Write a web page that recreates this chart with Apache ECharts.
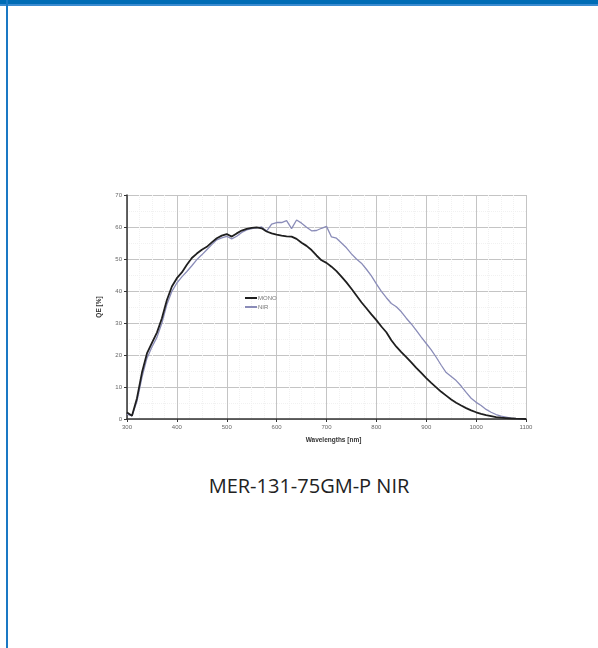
<!DOCTYPE html>
<html>
<head>
<meta charset="utf-8">
<script src="https://cdn.jsdelivr.net/npm/echarts@6/dist/echarts.min.js"></script>
<style>
  html, body { margin: 0; padding: 0; background: #ffffff; width: 598px; height: 648px; overflow: hidden; }
  #topbar { position: absolute; left: 0; top: 0; width: 598px; height: 4px; background: #006cb5; border-bottom: 2px solid #3b8bd0; z-index: 5; }
  #leftbar { position: absolute; left: 6px; top: 0; width: 2px; height: 648px; background: #1a78c4; z-index: 5; }
  #chart { position: absolute; left: 20px; top: 180px; width: 518px; height: 272px; }
  #caption { position: absolute; left: 0; width: 618px; top: 472px; text-align: center; font-family: "Open Sans", "Noto Sans", sans-serif; font-size: 20px; color: #222; }
</style>
</head>
<body>
<div id="topbar"></div>
<div id="leftbar"></div>
<div id="chart"></div>
<div id="caption">MER-131-75GM-P NIR</div>
<script>
const wavelengths = [300,310,320,330,340,350,360,370,380,390,400,410,420,430,440,450,460,470,480,490,500,510,520,530,540,550,560,570,580,590,600,610,620,630,640,650,660,670,680,690,700,710,720,730,740,750,760,770,780,790,800,810,820,830,840,850,860,870,880,890,900,910,920,930,940,950,960,970,980,990,1000,1010,1020,1030,1040,1050,1060,1070,1080,1090,1100];
const monoQE = [2.0,1.0,6.5,14.5,20.5,23.8,27.0,31.5,37.2,41.4,44.0,45.8,48.2,50.3,51.7,52.9,53.8,55.2,56.5,57.3,57.8,57.0,58.0,58.9,59.4,59.7,59.9,59.6,58.6,58.0,57.6,57.3,57.1,57.0,56.3,55.1,54.1,52.8,51.1,49.6,48.8,47.6,46.2,44.5,42.7,40.7,38.6,36.5,34.6,32.7,30.9,28.9,27.1,24.6,22.6,20.9,19.3,17.7,16.0,14.4,12.8,11.3,9.9,8.5,7.3,6.1,5.1,4.2,3.4,2.7,2.1,1.6,1.2,0.9,0.6,0.4,0.3,0.2,0.1,0.05,0];
const nirQE = [1.5,1.0,5.5,13.0,19.0,22.5,25.5,30.0,35.8,39.9,42.5,44.4,46.1,47.9,49.8,51.3,52.9,54.5,56.0,56.6,57.1,56.3,57.1,58.3,59.1,59.5,59.7,60.0,58.7,60.9,61.4,61.4,62.0,59.5,62.2,61.2,59.9,58.8,58.9,59.6,60.2,56.9,56.5,55.0,53.5,51.6,50.0,48.7,46.8,44.7,42.2,39.9,37.9,36.1,35.1,33.5,31.5,29.7,27.7,25.6,23.6,21.6,19.3,16.8,14.5,13.3,12.0,10.3,8.3,6.5,5.2,4.2,3.0,2.1,1.4,0.9,0.6,0.3,0.1,0.05,0];
const seriesNames = ['MONO', 'NIR'];
const xAxisTitle = 'Wavelengths [nm]';
const yAxisTitle = 'QE [%]';

const chart = echarts.init(document.getElementById('chart'), null, { renderer: 'canvas' });
const pairs = (ys) => wavelengths.map((w, i) => [w, ys[i]]);
const labelFont = { fontFamily: 'Liberation Sans, Arial, sans-serif', fontSize: 6, color: '#666' };

chart.setOption({
  animation: false,
  backgroundColor: 'transparent',
  grid: { left: 107, right: 12, top: 15, bottom: 33 },
  legend: {
    orient: 'vertical',
    left: 220, top: 110,
    itemWidth: 12, itemHeight: 2, itemGap: 3,
    icon: 'rect',
    textStyle: { fontFamily: 'Liberation Sans, Arial, sans-serif', fontSize: 6, color: '#777', padding: [0, 0, 0, -4] },
    data: seriesNames
  },
  xAxis: {
    type: 'value', min: 300, max: 1100, interval: 100,
    name: xAxisTitle, nameLocation: 'middle', nameGap: 18,
    nameTextStyle: { fontFamily: 'Liberation Sans, Arial, sans-serif', fontSize: 6.5, fontWeight: 'bold', color: '#333', padding: [0, 0, 0, 14] },
    axisLine: { show: true, onZero: false, lineStyle: { color: '#333', width: 1.5 } },
    axisTick: { show: true, length: 3, lineStyle: { color: '#333' } },
    axisLabel: Object.assign({ margin: 5, formatter: (v) => String(v) }, labelFont),
    splitLine: { show: true, lineStyle: { color: '#c4c4c4', width: 1 } },
    minorSplitLine: { show: true, lineStyle: { color: '#f1f1f1', type: 'dotted' } },
    minorTick: { show: false, splitNumber: 4 }
  },
  yAxis: {
    type: 'value', min: 0, max: 70, interval: 10,
    name: yAxisTitle, nameLocation: 'middle', nameGap: 24, nameRotate: 90,
    nameTextStyle: { fontFamily: 'Liberation Sans, Arial, sans-serif', fontSize: 6.5, fontWeight: 'bold', color: '#333' },
    axisLine: { show: true, lineStyle: { color: '#333', width: 1.5 } },
    axisTick: { show: true, length: 3, lineStyle: { color: '#333' } },
    axisLabel: Object.assign({ margin: 5, formatter: (v) => String(v) }, labelFont),
    splitLine: { show: true, lineStyle: { color: '#c4c4c4', width: 1 } },
    minorSplitLine: { show: true, lineStyle: { color: '#f1f1f1', type: 'dotted' } },
    minorTick: { show: false, splitNumber: 2 }
  },
  series: [
    { name: seriesNames[0], type: 'line', data: pairs(monoQE), showSymbol: false, symbol: 'none',
      lineStyle: { color: '#1f1f1f', width: 1.8 }, itemStyle: { color: '#1f1f1f' }, z: 3 },
    { name: seriesNames[1], type: 'line', data: pairs(nirQE), showSymbol: false, symbol: 'none',
      lineStyle: { color: '#8a8cb8', width: 1.3 }, itemStyle: { color: '#8a8cb8' }, z: 2 }
  ]
});
</script>
</body>
</html>
